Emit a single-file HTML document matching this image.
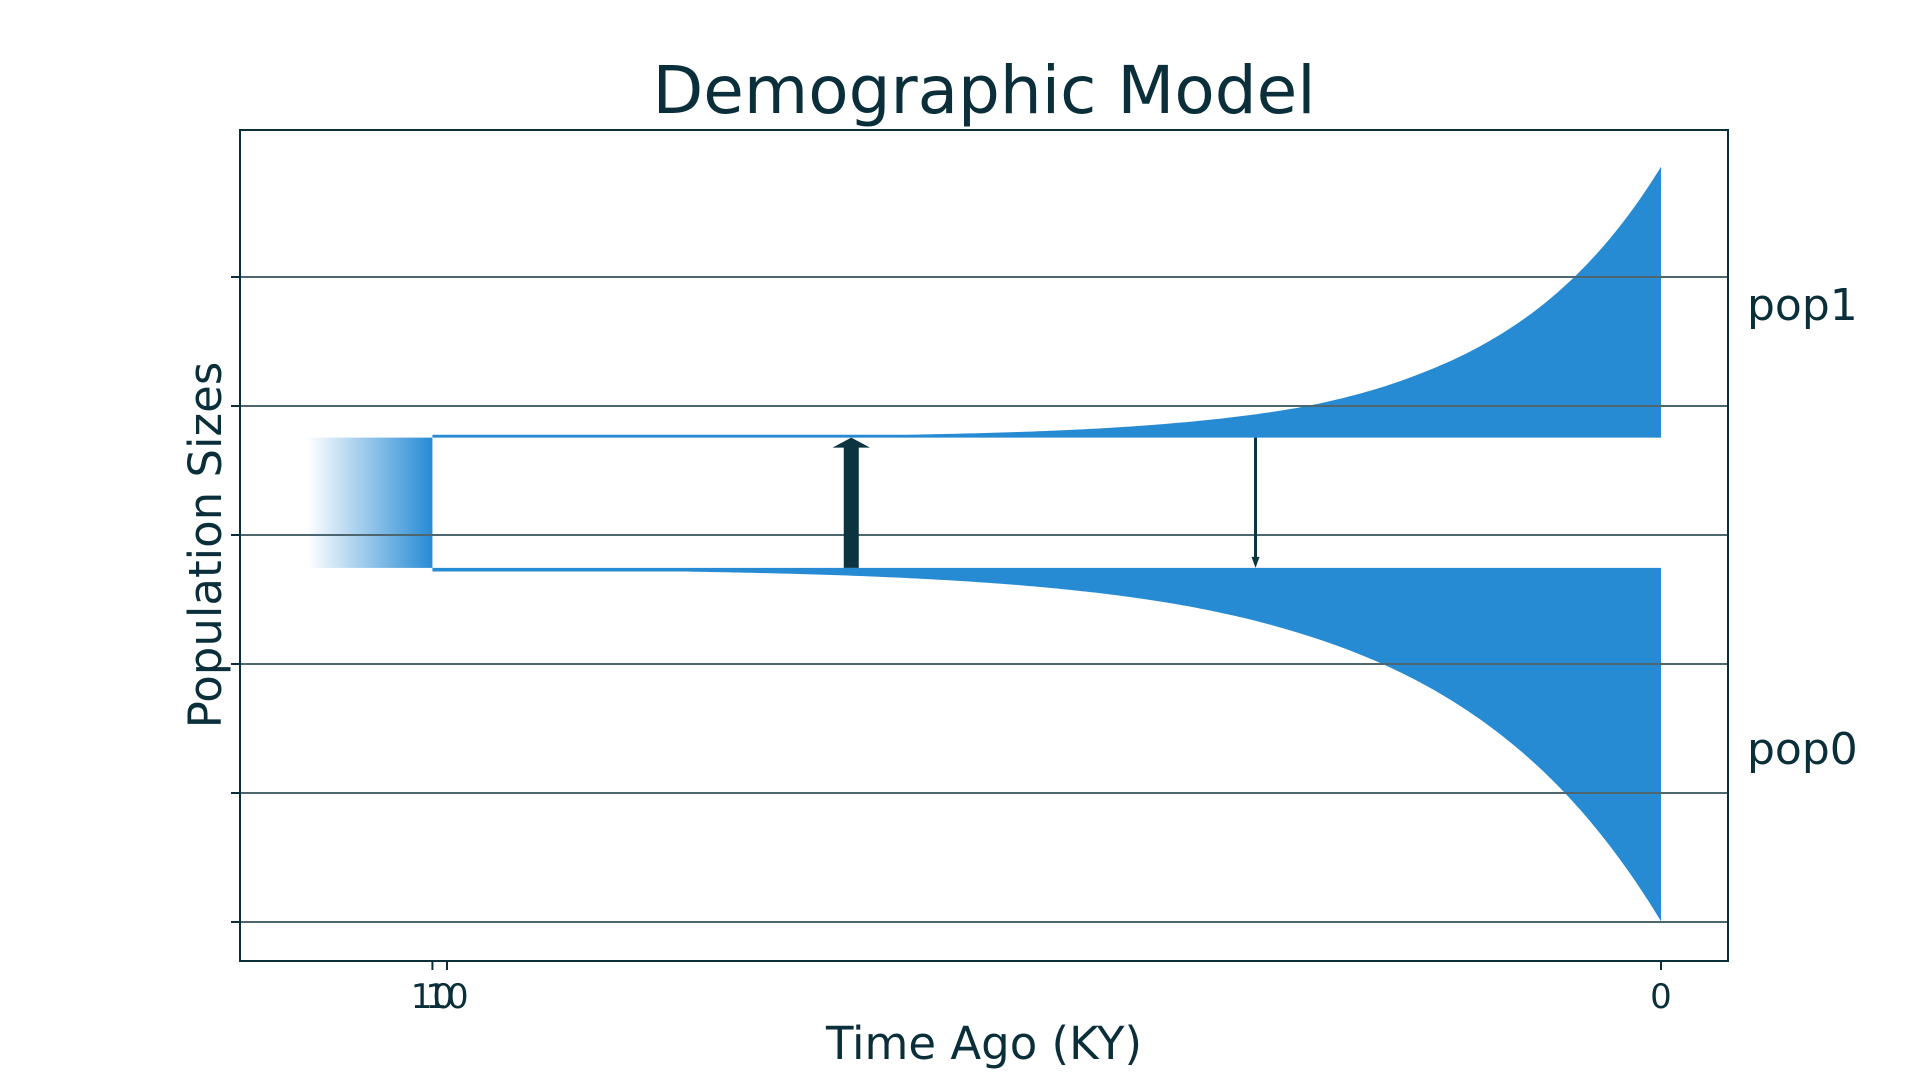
<!DOCTYPE html>
<html><head><meta charset="utf-8">
<style>
html,body{margin:0;padding:0;background:#fff;width:1920px;height:1080px;overflow:hidden}
svg{display:block;font-family:"DejaVu Sans","Liberation Sans",sans-serif}
</style></head>
<body>
<svg id="chart" width="1920" height="1080" viewBox="0 0 1920 1080" xmlns="http://www.w3.org/2000/svg">
<defs>
<linearGradient id="anc" x1="0" x2="1" y1="0" y2="0">
<stop offset="0" stop-color="#278bd4" stop-opacity="0"/>
<stop offset="1" stop-color="#278bd4" stop-opacity="1"/>
</linearGradient>
</defs>
<text x="984" y="113" text-anchor="middle" font-size="66" fill="#0b2f3a">Demographic Model</text>
<g id="marks"></g>
<g id="grid"></g>
<g id="arrows"></g>
<rect x="240" y="130" width="1488" height="831" fill="none" stroke="#0b2f3a" stroke-width="2"/>
<g id="axes"></g>
<text x="984" y="1059" text-anchor="middle" font-size="45" fill="#0b2f3a">Time Ago (KY)</text>
<text transform="translate(221,545) rotate(-90)" text-anchor="middle" font-size="45" fill="#0b2f3a">Population Sizes</text>
<text x="1747" y="320" font-size="44" fill="#0b2f3a">pop1</text>
<text x="1747" y="764" font-size="44" fill="#0b2f3a">pop0</text>
</svg>
<script>
// data
const times = [0,1,2,3,4,5,6,7,8,9,10];
const pop1Sizes = [2.10,1.01,0.49,0.23,0.113,0.054,0.026,0.012,0.006,0.003,0.002];
const pop0Sizes = [2.74,1.55,0.88,0.50,0.28,0.158,0.089,0.050,0.029,0.016,0.009];
const yTicks = [-3,-2,-1,0,1,2];
const xTickValues = [10.12,10,0];
const xTickLabels = ["10","10","0"];
const migrationTimes = [6.67,3.34];
const migrationDirections = ["up","down"];
const migrationWeights = [15,3];
const ancestralStart = 10.12;
const ancestralEnd = 11.15;

const NS="http://www.w3.org/2000/svg";
const X = t => 1661 - t*121.4;
const Y = v => 535 - v*129;
const pop1Base = 0.755, pop0Base = -0.255;
const minW1 = 0.022, minW0 = 0.028;
function mk(tag,attrs,parent){const e=document.createElementNS(NS,tag);for(const k in attrs)e.setAttribute(k,attrs[k]);parent.appendChild(e);return e;}
const marks=document.getElementById('marks'), grid=document.getElementById('grid'), axes=document.getElementById('axes'), arrows=document.getElementById('arrows');

const anc = mk('rect',{x:X(ancestralEnd),y:Y(pop1Base),width:X(ancestralStart)-X(ancestralEnd),height:Y(pop0Base)-Y(pop1Base),fill:'url(#anc)'},marks);



function sizeAt(sizes,t){
  // log-linear interpolation between read points
  let i=0; while(i<times.length-2 && t>times[i+1]) i++;
  const f=Math.min(Math.max((t-times[i])/(times[i+1]-times[i]),0),1);
  return Math.exp(Math.log(sizes[i])*(1-f)+Math.log(sizes[i+1])*f);
}
function curvePath(sizes,base,sign,minW){
  let d='M'+X(ancestralStart)+','+Y(base);
  const N=300;
  d+=' L'+X(ancestralStart)+','+Y(base+sign*minW);
  for(let k=0;k<=N;k++){
    const t=times[times.length-1]*(1-k/N);
    const s=Math.max(sizeAt(sizes,t),minW);
    d+=' L'+X(t).toFixed(2)+','+Y(base+sign*s).toFixed(2);
  }
  d+=' L'+X(0)+','+Y(base)+' Z';
  return d;
}
const p1=mk('path',{d:curvePath(pop1Sizes,pop1Base,1,minW1),fill:'#278bd4'},marks);


const p0=mk('path',{d:curvePath(pop0Sizes,pop0Base,-1,minW0),fill:'#278bd4'},marks);



migrationTimes.forEach((t,i)=>{
  const x=X(t), w=migrationWeights[i];
  const yTop=Y(pop1Base), yBot=Y(pop0Base);
  let d;
  if(migrationDirections[i]==='up'){
    const hl=10, hw=w*1.25;
    d=`M${x-w/2},${yBot} L${x-w/2},${yTop+hl} L${x-hw},${yTop+hl} L${x},${yTop} L${x+hw},${yTop+hl} L${x+w/2},${yTop+hl} L${x+w/2},${yBot} Z`;
  } else {
    const hl=11, hw=4;
    d=`M${x-w/2},${yTop} L${x-w/2},${yBot-hl} L${x-hw},${yBot-hl} L${x},${yBot} L${x+hw},${yBot-hl} L${x+w/2},${yBot-hl} L${x+w/2},${yTop} Z`;
  }
  const a=mk('path',{d:d,fill:'#0b3340'},arrows);
  
  
});

yTicks.forEach(v=>{
  const g=mk('line',{x1:240,x2:1728,y1:Y(v),y2:Y(v),stroke:'#4e6670','stroke-width':2},grid);
  
  
  const tk=mk('line',{x1:231,x2:240,y1:Y(v),y2:Y(v),stroke:'#0b2f3a','stroke-width':2},axes);
  
  
});
xTickValues.forEach((t,i)=>{
  const tk=mk('line',{x1:X(t),x2:X(t),y1:961,y2:970,stroke:'#0b2f3a','stroke-width':2},axes);
  
  
  const lb=mk('text',{x:X(t),y:1008,'text-anchor':'middle','font-size':34,fill:'#0b2f3a'},axes);
  lb.textContent=xTickLabels[i];
  
  
});
</script>
</body></html>
